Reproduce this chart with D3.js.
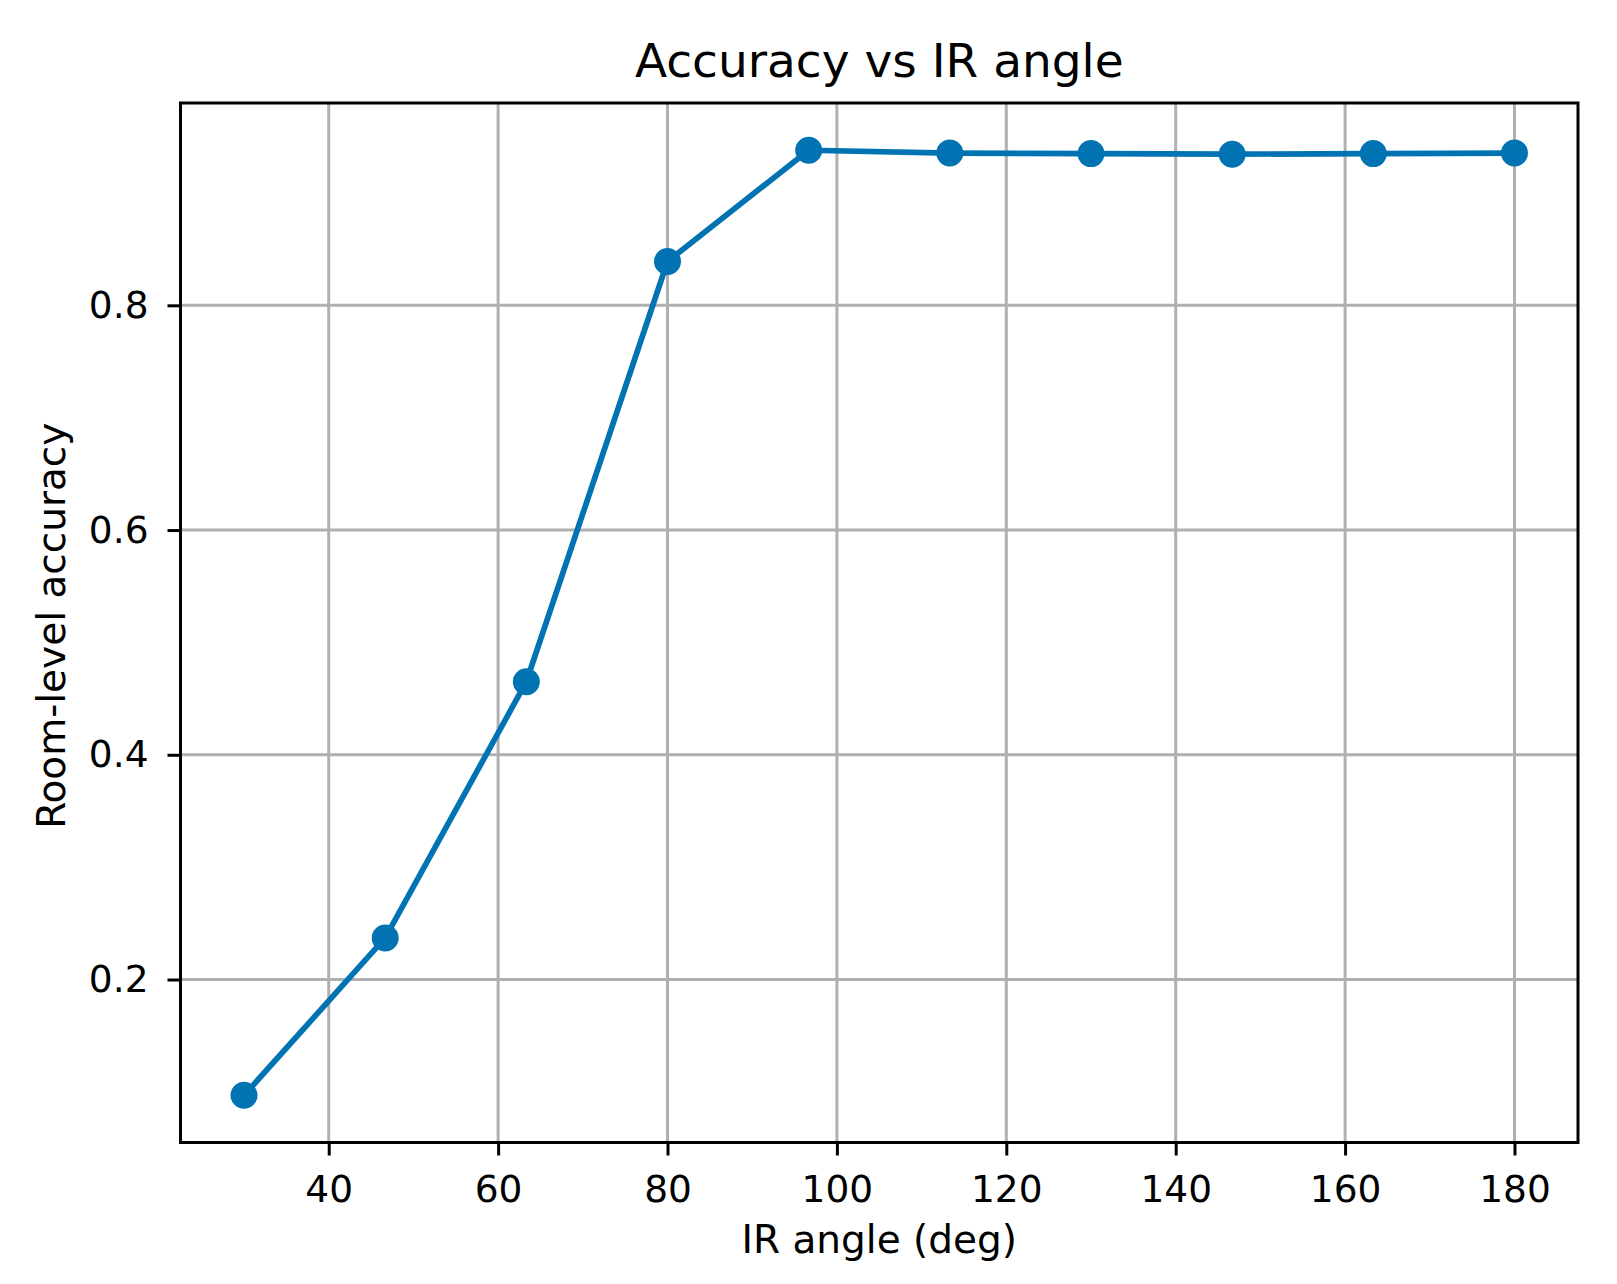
<!DOCTYPE html>
<html>
<head>
<meta charset="utf-8">
<script src="https://cdn.jsdelivr.net/npm/d3@7"></script>
<style>
  body { margin: 0; background: #fff; }
  svg { display: block; font-family: "DejaVu Sans", sans-serif; }
</style>
</head>
<body>
<div id="chart"></div>
<script>
// data
const angles = [30, 46.67, 63.33, 80, 96.67, 113.33, 130, 146.67, 163.33, 180];
const accuracy = [0.097, 0.237, 0.465, 0.839, 0.938, 0.9355, 0.935, 0.9345, 0.935, 0.9355];
const xTicks = [40, 60, 80, 100, 120, 140, 160, 180];
const yTicks = [0.2, 0.4, 0.6, 0.8];
const titleText = "Accuracy vs IR angle";
const xLabel = "IR angle (deg)";
const yLabel = "Room-level accuracy";

const width = 1617;
const height = 1284;
const margin = { left: 180.5, right: 39, top: 103, bottom: 141.5 };
const blue = "#0173b2";
const tickFont = "37.5px";
const labelFont = "39px";

const svg = d3.select("#chart")
  .append("svg")
  .attr("width", width)
  .attr("height", height);

// matplotlib style 5% padding around the data
const pad = (ext) => {
  const d = (ext[1] - ext[0]) * 0.05;
  return [ext[0] - d, ext[1] + d];
};

const xScale = d3.scaleLinear()
  .domain(pad(d3.extent(angles)))
  .range([margin.left, width - margin.right]);
const yScale = d3.scaleLinear()
  .domain(pad(d3.extent(accuracy)))
  .range([height - margin.bottom, margin.top]);

//grid
const grid = svg.append("g");
grid.selectAll("line.gx")
  .data(xTicks)
  .enter()
  .append("line")
    .attr("x1", (d) => xScale(d))
    .attr("x2", (d) => xScale(d))
    .attr("y1", margin.top)
    .attr("y2", height - margin.bottom)
    .attr("stroke", "#b0b0b0")
    .attr("stroke-width", 3);
grid.selectAll("line.gy")
  .data(yTicks)
  .enter()
  .append("line")
    .attr("x1", margin.left)
    .attr("x2", width - margin.right)
    .attr("y1", (d) => yScale(d))
    .attr("y2", (d) => yScale(d))
    .attr("stroke", "#b0b0b0")
    .attr("stroke-width", 3);

//axes
const xAxis = svg.append("g")
  .attr("transform", `translate(0, ${height - margin.bottom})`)
  .call(d3.axisBottom(xScale).tickValues(xTicks).tickSize(13).tickPadding(20).tickSizeOuter(0));
const yAxis = svg.append("g")
  .attr("transform", `translate(${margin.left}, 0)`)
  .call(d3.axisLeft(yScale).tickValues(yTicks).tickFormat(d3.format(".1f")).tickSize(13).tickPadding(19).tickSizeOuter(0));

[xAxis, yAxis].forEach((ax) => {
  ax.select(".domain").remove();
  ax.selectAll(".tick line").attr("stroke", "#000").attr("stroke-width", 3);
  ax.selectAll(".tick text")
    .attr("fill", "#000")
    .style("font-family", "DejaVu Sans")
    .style("font-size", tickFont);
});

//frame
svg.append("rect")
  .attr("x", margin.left)
  .attr("y", margin.top)
  .attr("width", width - margin.left - margin.right)
  .attr("height", height - margin.top - margin.bottom)
  .attr("fill", "none")
  .attr("stroke", "#000")
  .attr("stroke-width", 3);

//line + markers
const pts = angles.map((a, i) => [a, accuracy[i]]);
svg.append("path")
  .datum(pts)
  .attr("fill", "none")
  .attr("stroke", blue)
  .attr("stroke-width", 5.7)
  .attr("stroke-linejoin", "round")
  .attr("d", d3.line().x((d) => xScale(d[0])).y((d) => yScale(d[1])));

svg.append("g")
  .selectAll("circle")
  .data(pts)
  .enter()
  .append("circle")
    .attr("cx", (d) => xScale(d[0]))
    .attr("cy", (d) => yScale(d[1]))
    .attr("r", 11.75)
    .attr("fill", blue)
    .attr("stroke", blue)
    .attr("stroke-width", 3.5);

//labels
const plotMid = (margin.left + width - margin.right) / 2;
svg.append("text")
  .attr("x", plotMid)
  .attr("y", 77)
  .attr("text-anchor", "middle")
  .style("font-size", "47px")
  .text(titleText);

svg.append("text")
  .attr("x", plotMid)
  .attr("y", 1253)
  .attr("text-anchor", "middle")
  .style("font-size", labelFont)
  .text(xLabel);

svg.append("text")
  .attr("transform", `translate(65, ${(margin.top + height - margin.bottom) / 2 + 3}) rotate(-90)`)
  .attr("text-anchor", "middle")
  .style("font-size", labelFont)
  .text(yLabel);
</script>
</body>
</html>
